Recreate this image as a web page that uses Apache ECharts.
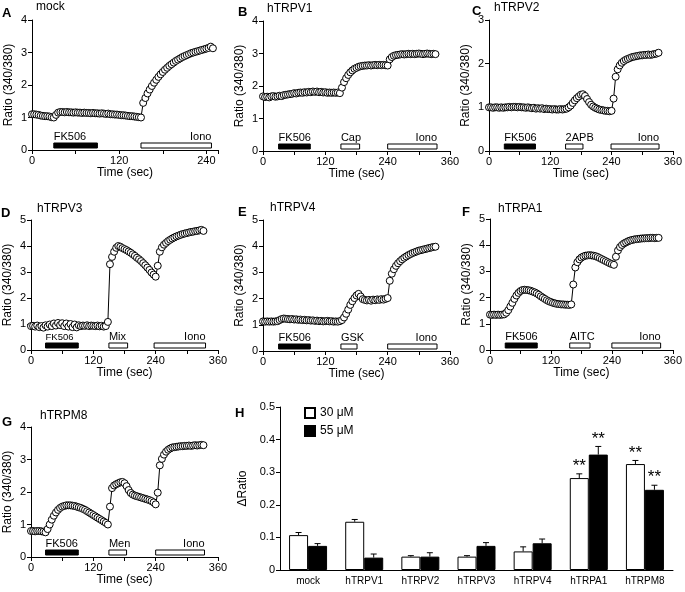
<!DOCTYPE html>
<html><head><meta charset="utf-8">
<script src="https://cdn.jsdelivr.net/npm/echarts@6/dist/echarts.min.js"></script>
<style>html,body{margin:0;padding:0;background:#fff}#c{width:685px;height:592px}</style>
</head><body><div id="c"></div>
<script>
const FONT = '"Liberation Sans", Arial, Helvetica, sans-serif';

// ---- Time traces: Ratio (340/380), sampled every dt seconds starting at t = 0 ----
const mockDt = 3;
const mockRatio = [1.10,1.10,1.09,1.08,1.06,1.05,1.04,1.04,1.03,1.01,
  1.00,1.08,1.15,1.17,1.17,1.16,1.17,1.16,1.16,1.15,
  1.16,1.15,1.15,1.14,1.15,1.14,1.14,1.13,1.14,1.13,
  1.13,1.12,1.13,1.12,1.11,1.12,1.10,1.10,1.09,1.09,
  1.08,1.07,1.07,1.06,1.05,1.04,1.04,1.03,1.02,1.01,
  1.00,1.45,1.60,1.74,1.86,1.97,2.07,2.16,2.25,2.33,
  2.40,2.47,2.53,2.59,2.64,2.69,2.74,2.78,2.82,2.86,
  2.89,2.92,2.95,2.98,3.00,3.02,3.04,3.06,3.08,3.10,
  3.12,3.14,3.18,3.13];

const traceDt = 4;
const trpv1Ratio = [1.68,1.66,1.67,1.65,1.68,1.69,1.67,1.68,1.70,1.69,
  1.72,1.73,1.74,1.75,1.76,1.78,1.77,1.79,1.80,1.79,
  1.81,1.80,1.82,1.81,1.83,1.82,1.83,1.81,1.82,1.80,
  1.81,1.79,1.80,1.79,1.80,1.79,1.80,1.78,1.95,2.12,
  2.24,2.34,2.42,2.48,2.53,2.56,2.59,2.61,2.62,2.63,
  2.63,2.64,2.63,2.64,2.65,2.64,2.65,2.64,2.65,2.64,
  2.63,2.82,2.89,2.93,2.95,2.96,2.97,2.98,2.97,2.98,
  2.99,2.98,2.99,2.98,2.99,3.00,2.99,2.98,2.99,3.00,
  2.99,2.98,2.99,2.98];
const trpv2Ratio = [1.00,1.00,0.99,1.00,1.00,0.99,1.00,0.99,1.00,1.00,
  1.01,1.00,1.01,1.01,1.00,1.01,1.00,1.00,0.99,1.00,
  0.99,0.98,0.99,0.97,0.98,0.97,0.98,0.96,0.97,0.96,
  0.96,0.95,0.96,0.95,0.95,0.96,0.95,0.96,0.97,1.00,
  1.04,1.10,1.16,1.21,1.25,1.29,1.30,1.26,1.19,1.12,
  1.06,1.02,0.99,0.97,0.95,0.94,0.93,0.92,0.92,0.91,
  0.92,1.20,1.70,1.87,1.96,2.02,2.06,2.09,2.11,2.13,
  2.15,2.16,2.17,2.18,2.19,2.19,2.20,2.20,2.21,2.20,
  2.21,2.22,2.23,2.25];
const trpv3Ratio = [0.92,0.93,0.90,0.94,0.88,0.92,0.86,0.95,0.90,0.98,
  0.92,1.02,0.94,1.04,0.96,1.03,0.92,1.02,0.90,1.00,
  0.88,0.98,0.87,0.95,0.92,0.94,0.93,0.95,0.92,0.94,
  0.93,0.92,0.94,0.91,0.93,0.90,0.92,1.08,3.30,3.58,
  3.78,3.93,4.00,3.97,3.92,3.88,3.84,3.79,3.74,3.68,
  3.62,3.55,3.49,3.42,3.34,3.26,3.17,3.08,2.98,2.90,
  2.82,3.24,3.78,3.95,4.05,4.12,4.19,4.24,4.29,4.33,
  4.37,4.40,4.43,4.46,4.48,4.50,4.52,4.54,4.55,4.57,
  4.58,4.60,4.62,4.58];
const trpv4Ratio = [1.13,1.12,1.13,1.12,1.13,1.12,1.13,1.14,1.18,1.22,
  1.24,1.23,1.22,1.21,1.22,1.20,1.21,1.19,1.20,1.18,
  1.19,1.17,1.18,1.16,1.17,1.15,1.16,1.14,1.15,1.13,
  1.14,1.15,1.13,1.14,1.12,1.13,1.12,1.14,1.18,1.28,
  1.42,1.58,1.76,1.90,2.02,2.12,2.18,2.08,1.98,1.95,
  1.93,1.95,1.92,1.96,1.94,1.97,1.95,1.98,1.96,1.99,
  2.02,2.68,2.95,3.12,3.25,3.35,3.43,3.50,3.56,3.61,
  3.66,3.70,3.74,3.77,3.80,3.83,3.85,3.87,3.89,3.91,
  3.93,3.95,3.97,3.98];
const trpa1Ratio = [1.35,1.34,1.35,1.34,1.35,1.34,1.35,1.36,1.42,1.52,
  1.66,1.80,1.95,2.08,2.18,2.25,2.29,2.30,2.29,2.28,
  2.26,2.23,2.20,2.16,2.11,2.05,2.00,1.95,1.90,1.86,
  1.83,1.80,1.78,1.76,1.75,1.74,1.74,1.73,1.73,1.72,
  1.74,2.50,3.15,3.35,3.46,3.53,3.57,3.60,3.61,3.62,
  3.61,3.60,3.58,3.55,3.51,3.47,3.43,3.39,3.35,3.31,
  3.28,3.25,3.56,3.80,3.93,4.01,4.07,4.11,4.15,4.18,
  4.20,4.22,4.23,4.24,4.25,4.26,4.26,4.27,4.27,4.28,
  4.28,4.27,4.28,4.28];
const trpm8Ratio = [0.80,0.80,0.79,0.80,0.80,0.79,0.78,0.76,0.86,1.00,
  1.15,1.27,1.37,1.45,1.51,1.55,1.57,1.59,1.59,1.59,
  1.58,1.57,1.55,1.53,1.51,1.48,1.45,1.41,1.37,1.33,
  1.29,1.25,1.21,1.17,1.13,1.09,1.05,1.00,1.55,2.12,
  2.20,2.24,2.27,2.30,2.31,2.27,2.18,2.06,1.97,1.92,
  1.89,1.87,1.85,1.83,1.81,1.79,1.77,1.75,1.72,1.68,
  1.62,1.98,2.82,3.02,3.15,3.24,3.30,3.34,3.37,3.38,
  3.39,3.40,3.41,3.41,3.42,3.42,3.43,3.42,3.43,3.44,
  3.43,3.44,3.45,3.44];

// ---- Treatment periods (seconds) ----
const mockTreat = ['FK506', 'Iono'];          const mockOn = [30, 150];       const mockOff = [90, 247];
const trpv1Treat = ['FK506', 'Cap', 'Iono'];  const trpv1On = [30, 150, 240]; const trpv1Off = [91, 186, 335];
const trpv2Treat = ['FK506', '2APB', 'Iono']; const trpv2On = [30, 150, 239]; const trpv2Off = [91, 184, 333];
const trpv3Treat = ['FK506', 'Mix', 'Iono'];  const trpv3On = [28, 150, 237]; const trpv3Off = [91, 186, 336];
const trpv4Treat = ['FK506', 'GSK', 'Iono'];  const trpv4On = [30, 150, 240]; const trpv4Off = [91, 181, 335];
const trpa1Treat = ['FK506', 'AITC', 'Iono']; const trpa1On = [30, 157, 240]; const trpa1Off = [93, 197, 336];
const trpm8Treat = ['FK506', 'Men', 'Iono'];  const trpm8On = [28, 150, 240]; const trpm8Off = [91, 184, 334];

const timeTickLabels = [0, 120, 240, 360];

// ---- Panel H: ΔRatio ----
const hCats = ['mock', 'hTRPV1', 'hTRPV2', 'hTRPV3', 'hTRPV4', 'hTRPA1', 'hTRPM8'];
const h30 = [0.107, 0.148, 0.041, 0.041, 0.057, 0.282, 0.325];
const h30Err = [0.008, 0.007, 0.003, 0.003, 0.014, 0.013, 0.011];
const h55 = [0.074, 0.038, 0.041, 0.074, 0.082, 0.354, 0.246];
const h55Err = [0.007, 0.011, 0.012, 0.010, 0.013, 0.025, 0.014];
const h30Sig = ['', '', '', '', '', '**', '**'];
const h55Sig = ['', '', '', '', '', '**', '**'];
const hSeriesNames = ['30 μM', '55 μM'];

// ---- Layout ----
const panels = [
  {letter:'A', title:'mock',   ratio:mockRatio,  dt:mockDt,  treat:mockTreat,  on:mockOn,  off:mockOff,
   grid:{left:32, top:20, width:186, height:130}, xMax:256, yMax:4, letterPos:[2,7],   titlePos:[36,1],   fkFont:11},
  {letter:'B', title:'hTRPV1', ratio:trpv1Ratio, dt:traceDt, treat:trpv1Treat, on:trpv1On, off:trpv1Off,
   grid:{left:263, top:21, width:187, height:130}, xMax:360, yMax:4, letterPos:[238,6], titlePos:[267,3], fkFont:11},
  {letter:'C', title:'hTRPV2', ratio:trpv2Ratio, dt:traceDt, treat:trpv2Treat, on:trpv2On, off:trpv2Off,
   grid:{left:489, top:20, width:188, height:131}, xMax:360, yMax:3, letterPos:[472,5], titlePos:[494,2], fkFont:11},
  {letter:'D', title:'hTRPV3', ratio:trpv3Ratio, dt:traceDt, treat:trpv3Treat, on:trpv3On, off:trpv3Off,
   grid:{left:31, top:220, width:187, height:130}, xMax:360, yMax:5, letterPos:[1,207], titlePos:[37,203], fkFont:9.5},
  {letter:'E', title:'hTRPV4', ratio:trpv4Ratio, dt:traceDt, treat:trpv4Treat, on:trpv4On, off:trpv4Off,
   grid:{left:263, top:220, width:187, height:131}, xMax:360, yMax:5, letterPos:[238,206], titlePos:[270,202], fkFont:11},
  {letter:'F', title:'hTRPA1', ratio:trpa1Ratio, dt:traceDt, treat:trpa1Treat, on:trpa1On, off:trpa1Off,
   grid:{left:490, top:219, width:188, height:131}, xMax:360, yMax:5, letterPos:[462,206], titlePos:[498,203], fkFont:11},
  {letter:'G', title:'hTRPM8', ratio:trpm8Ratio, dt:traceDt, treat:trpm8Treat, on:trpm8On, off:trpm8Off,
   grid:{left:31, top:427, width:187, height:130}, xMax:360, yMax:4, letterPos:[2,416], titlePos:[40,410], fkFont:11}
];
const hGrid = {left:280, top:407, width:393, height:163};

const grids = [], xAxes = [], yAxes = [], series = [], titles = [];
const nameStyle = {color:'#000', fontSize:12, fontWeight:'normal', fontFamily:FONT};

panels.forEach((p, k) => {
  grids.push(Object.assign({}, p.grid));
  xAxes.push({
    type:'value', gridIndex:k, min:0, max:p.xMax, interval:60,
    axisLine:{show:true, onZero:false, lineStyle:{color:'#000', width:1}},
    axisTick:{show:true, length:4, lineStyle:{color:'#000'}},
    splitLine:{show:false},
    axisLabel:{color:'#000', fontSize:11, fontFamily:FONT, margin:5,
      formatter: v => timeTickLabels.includes(v) ? String(v) : ''},
    name:'Time (sec)', nameLocation:'middle', nameGap:17, nameTextStyle:nameStyle
  });
  yAxes.push({
    type:'value', gridIndex:k, min:0, max:p.yMax, interval:1,
    axisLine:{show:true, lineStyle:{color:'#000', width:1}},
    axisTick:{show:true, length:4, lineStyle:{color:'#000'}},
    splitLine:{show:false},
    axisLabel:{color:'#000', fontSize:11, fontFamily:FONT, margin:5},
    name:'Ratio (340/380)', nameLocation:'middle', nameGap:17, nameTextStyle:nameStyle
  });
  series.push({
    type:'line', xAxisIndex:k, yAxisIndex:k,
    data: p.ratio.map((v, i) => [i * p.dt, v]),
    symbol:'circle', symbolSize:7, showAllSymbol:true, showSymbol:true,
    lineStyle:{color:'#000', width:1},
    itemStyle:{color:'#fff', borderColor:'#000', borderWidth:1},
    silent:true, animation:false, z:3
  });
  series.push({
    type:'custom', xAxisIndex:k, yAxisIndex:k,
    data: p.treat.map((n, i) => [p.on[i], p.off[i]]),
    encode:{x:[0, 1]},
    renderItem: (params, api) => {
      const name = p.treat[params.dataIndex];
      const a = api.coord([api.value(0), 0]);
      const b = api.coord([api.value(1), 0]);
      const y = a[1];
      const rightAligned = name === 'Iono';
      return {type:'group', children:[
        {type:'rect', shape:{x:a[0], y:y - 7, width:b[0] - a[0], height:5},
         style:{fill: name === 'FK506' ? '#000' : '#fff', stroke:'#000', lineWidth:1}},
        {type:'text', style:{text:name, x: rightAligned ? b[0] : a[0], y:y - 7.5,
          align: rightAligned ? 'right' : 'left', verticalAlign:'bottom',
          fontSize: name === 'FK506' ? p.fkFont : 11, fontFamily:FONT, fill:'#000'}}
      ]};
    },
    silent:true, animation:false, z:4
  });
  titles.push({text:p.letter, left:p.letterPos[0], top:p.letterPos[1], padding:0,
    textStyle:{fontSize:13, fontWeight:'bold', fontFamily:FONT, color:'#000'}});
  titles.push({text:p.title, left:p.titlePos[0], top:p.titlePos[1], padding:0,
    textStyle:{fontSize:12, fontWeight:'normal', fontFamily:FONT, color:'#000'}});
});

// Panel H
const hk = panels.length;
grids.push(Object.assign({}, hGrid));
xAxes.push({
  type:'category', gridIndex:hk, data:hCats,
  axisLine:{show:true, lineStyle:{color:'#000', width:1}},
  axisTick:{show:false},
  axisLabel:{color:'#000', fontSize:10, fontFamily:FONT, margin:6, interval:0}
});
yAxes.push({
  type:'value', gridIndex:hk, min:0, max:0.5, interval:0.1,
  axisLine:{show:true, lineStyle:{color:'#000', width:1}},
  axisTick:{show:true, length:4, lineStyle:{color:'#000'}},
  splitLine:{show:false},
  axisLabel:{color:'#000', fontSize:11, fontFamily:FONT, margin:5,
    formatter: v => v === 0 ? '0' : v.toFixed(1)},
  name:'ΔRatio', nameLocation:'middle', nameGap:26, nameTextStyle:nameStyle
});
const barW = 19;
series.push({
  name:hSeriesNames[0], type:'bar', xAxisIndex:hk, yAxisIndex:hk, data:h30,
  barWidth:barW, barGap:'0%',
  itemStyle:{color:'#fff', borderColor:'#000', borderWidth:1}, animation:false
});
series.push({
  name:hSeriesNames[1], type:'bar', xAxisIndex:hk, yAxisIndex:hk, data:h55,
  barWidth:barW, barGap:'0%',
  itemStyle:{color:'#000', borderColor:'#000', borderWidth:1}, animation:false
});
function errSeries(vals, errs, sig, offset) {
  return {
    type:'custom', xAxisIndex:hk, yAxisIndex:hk,
    data: vals.map((v, i) => [i, v, errs[i]]),
    encode:{x:0, y:1},
    renderItem: (params, api) => {
      const i = api.value(0);
      const base = api.coord([i, api.value(1)]);
      const top = api.coord([i, api.value(1) + api.value(2)]);
      const x = base[0] + offset;
      const ch = [
        {type:'line', shape:{x1:x, y1:base[1], x2:x, y2:top[1]}, style:{stroke:'#000', lineWidth:1}},
        {type:'line', shape:{x1:x - 3, y1:top[1], x2:x + 3, y2:top[1]}, style:{stroke:'#000', lineWidth:1}}
      ];
      const s = sig[params.dataIndex];
      if (s) ch.push({type:'text', style:{text:s, x:x, y:top[1] + 1, align:'center', verticalAlign:'bottom',
        fontSize:17, fontWeight:'normal', fontFamily:FONT, fill:'#000'}});
      return {type:'group', children:ch};
    },
    silent:true, animation:false, z:5
  };
}
series.push(errSeries(h30, h30Err, h30Sig, -barW / 2));
series.push(errSeries(h55, h55Err, h55Sig, barW / 2));
titles.push({text:'H', left:235, top:407, padding:0,
  textStyle:{fontSize:13, fontWeight:'bold', fontFamily:FONT, color:'#000'}});

const chart = echarts.init(document.getElementById('c'), null, {renderer:'canvas'});
chart.setOption({
  backgroundColor:'#fff',
  animation:false,
  title: titles,
  grid: grids,
  xAxis: xAxes,
  yAxis: yAxes,
  legend: {
    data: hSeriesNames.map(n => ({name:n, icon:'rect'})),
    orient:'vertical', left:304, top:407, padding:0,
    itemWidth:10, itemHeight:10, itemGap:6, selectedMode:false,
    textStyle:{color:'#000', fontSize:12, fontFamily:FONT}
  },
  series: series
});
</script>
</body></html>
